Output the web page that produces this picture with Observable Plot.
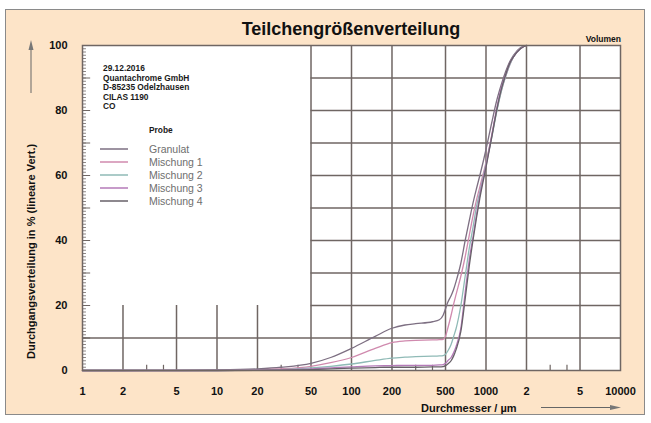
<!DOCTYPE html>
<html><head><meta charset="utf-8">
<script src="https://cdn.jsdelivr.net/npm/d3@7"></script>
<script src="https://cdn.jsdelivr.net/npm/@observablehq/plot@0.6"></script>
<style>
html,body{margin:0;padding:0;background:#fff;}
#wrap{position:relative;width:651px;height:423px;overflow:hidden;font-family:"Liberation Sans",Arial,sans-serif;}
#panel{position:absolute;left:5px;top:9px;width:638px;height:404px;background:#fde4c8;border:1px solid #8a8a8a;}
#chart{position:absolute;left:0;top:0;}
#over{position:absolute;left:0;top:0;}
</style></head><body>
<div id="wrap"><div id="panel"></div><div id="chart"></div><svg id="over" width="651" height="423"></svg></div>
<script>
// ---- data ----
const diameters = [1, 2, 5, 10, 20, 30, 50, 70, 100, 150, 200, 250, 300, 400, 450, 480, 500, 520, 550, 575, 600, 650, 700, 750, 800, 850, 900, 1000, 1100, 1200, 1300, 1400, 1500, 1600, 1800, 2000];
const granulat  = [0, 0, 0.05, 0.15, 0.5, 1, 2.2, 4, 6.8, 10.5, 13, 14, 14.4, 15, 15.6, 17, 19, 21, 23, 25, 27.5, 33, 40, 46, 51.5, 56, 60, 68, 76, 83, 88, 92, 95, 97, 99.3, 100];
const mischung1 = [0, 0, 0, 0.05, 0.2, 0.5, 1.3, 2.4, 4, 6.8, 8.6, 9.1, 9.3, 9.4, 9.5, 9.6, 10.5, 13, 17, 20.5, 23.5, 29, 35, 41.5, 47.5, 52.5, 56.5, 64, 72, 80, 86, 90.5, 94, 96.5, 99, 100];
const mischung2 = [0, 0, 0, 0, 0.1, 0.3, 0.8, 1.3, 2, 3.1, 3.8, 4.1, 4.3, 4.4, 4.5, 4.6, 5, 6, 8, 10.5, 13, 20, 29, 37.5, 44, 50.5, 55, 63.5, 71.5, 79.5, 86, 90.5, 94, 96.5, 99, 100];
const mischung3 = [0, 0, 0, 0, 0.1, 0.2, 0.5, 0.8, 1.1, 1.4, 1.5, 1.6, 1.6, 1.6, 1.7, 1.8, 2.2, 3, 4, 5.5, 7.5, 13, 24, 34, 41, 48, 54, 63, 72, 80.5, 87, 91, 94.5, 96.5, 99, 100];
const mischung4 = [0, 0, 0, 0, 0.05, 0.1, 0.3, 0.5, 0.7, 0.9, 1, 1, 1, 1.1, 1.1, 1.2, 1.5, 2, 3, 4.5, 6.5, 12, 22, 32, 40, 47, 53, 62.5, 71.5, 80, 86.5, 91, 94.5, 96.5, 99, 100];
const seriesNames = ["Granulat", "Mischung 1", "Mischung 2", "Mischung 3", "Mischung 4"];
const seriesValues = [granulat, mischung1, mischung2, mischung3, mischung4];
const seriesColors = ["#7d6f82", "#d08aae", "#8fbab6", "#b47ab8", "#676068"];
const xTickValues = [1, 2, 5, 10, 20, 50, 100, 200, 500, 1000, 2000, 5000, 10000];
const xTickLabels = ["1", "2", "5", "10", "20", "50", "100", "200", "500", "1000", "2", "5", "10000"];
const yTickValues = [0, 20, 40, 60, 80, 100];
const fullGridX = [50, 100, 200, 500, 1000, 2000, 5000];
const lowGridX = [2, 5, 10, 20];
const shortTicksX = [3, 4, 30, 40, 300, 400, 3000, 4000];
const gridY = [20, 30, 40, 50, 60, 70, 80, 90];
const fullGridY = [10];
const infoLines = ["29.12.2016", "Quantachrome GmbH", "D-85235 Odelzhausen", "CILAS 1190", "CO"];

// ---- build ----
const rows = seriesNames.flatMap((name, i) => diameters.map((d, j) => ({name, d, v: seriesValues[i][j]})));
const labelMap = new Map(xTickValues.map((v, i) => [v, xTickLabels[i]]));
const minorY = d3.range(0, 101, 1);
const majorY = d3.range(0, 101, 10);
const gridColor = "#6f6663";

const chart = Plot.plot({
  width: 651, height: 423,
  marginLeft: 82, marginRight: 31, marginTop: 45, marginBottom: 53,
  style: {background: "transparent", fontFamily: "Liberation Sans, Arial, sans-serif", color: "#111"},
  x: {type: "log", domain: [1, 10000], axis: null},
  y: {domain: [0, 100]},
  color: {domain: seriesNames, range: seriesColors},
  marks: [
    Plot.frame({fill: "white", stroke: null}),
    Plot.ruleX(fullGridX, {y1: 0, y2: 100, stroke: gridColor, strokeWidth: 1.5}),
    Plot.ruleX(lowGridX, {y1: 0, y2: 20, stroke: gridColor, strokeWidth: 1.5}),
    Plot.ruleX(shortTicksX, {y1: 0, y2: 1.6, stroke: gridColor, strokeWidth: 1.2}),
    Plot.ruleY(gridY, {x1: 50, x2: 10000, stroke: gridColor, strokeWidth: 1.5}),
    Plot.ruleY(fullGridY, {x1: 1, x2: 10000, stroke: gridColor, strokeWidth: 1.5}),
    Plot.ruleY(minorY, {x1: 1, x2: 1.07, stroke: gridColor, strokeWidth: 0.8}),
    Plot.ruleY(majorY, {x1: 1, x2: 1.15, stroke: gridColor, strokeWidth: 1}),
    Plot.line(rows, {x: "d", y: "v", z: "name", stroke: "name", curve: "monotone-x", strokeWidth: 1.3}),
    Plot.frame({stroke: gridColor, strokeWidth: 1.5}),
    Plot.text(xTickValues, {x: d => d, text: d => labelMap.get(d), frameAnchor: "bottom", dy: 24, fontWeight: "bold", fontSize: 11, fill: "#111"}),
    Plot.axisY(yTickValues, {tickSize: 0, tickPadding: 15, fontWeight: "bold", fontSize: 11, label: null})
  ]
});
document.getElementById("chart").append(chart);

// ---- annotations ----
const svg = d3.select("#over").style("font-family", "Liberation Sans, Arial, sans-serif");
svg.append("text").attr("x", 351).attr("y", 35).attr("text-anchor", "middle")
  .attr("font-size", 18).attr("font-weight", "bold").attr("fill", "#111").text("Teilchengrößenverteilung");
svg.append("text").attr("x", 621).attr("y", 42).attr("text-anchor", "end")
  .attr("font-size", 8.5).attr("font-weight", "bold").attr("fill", "#111").text("Volumen");
// y title
svg.append("text").attr("transform", "translate(35,359) rotate(-90)").attr("text-anchor", "start")
  .attr("font-size", 11).attr("font-weight", "bold").attr("fill", "#111")
  .text("Durchgangsverteilung in % (lineare Vert.)");
svg.append("line").attr("x1", 31).attr("x2", 31).attr("y1", 93).attr("y2", 47).attr("stroke", "#666").attr("stroke-width", 1);
svg.append("path").attr("d", "M28.5,50 L33.5,50 L31,40 Z").attr("fill", "#777");
// x title
svg.append("text").attr("x", 421).attr("y", 412).attr("text-anchor", "start")
  .attr("font-size", 11).attr("font-weight", "bold").attr("fill", "#111").text("Durchmesser / µm");
svg.append("line").attr("x1", 541).attr("x2", 614).attr("y1", 407.5).attr("y2", 407.5).attr("stroke", "#666").attr("stroke-width", 1);
svg.append("path").attr("d", "M610,405 L610,410 L621,407.5 Z").attr("fill", "#777");
// info text (condensed bold)
const info = svg.append("g").attr("transform", "translate(103,0) scale(0.88,1)");
infoLines.forEach((t, i) => {
  info.append("text").attr("x", 0).attr("y", 71 + i * 9.6).attr("font-size", 9.5)
    .attr("font-weight", "bold").attr("fill", "#1a1a1a").text(t);
});
svg.append("g").attr("transform", "translate(149,0) scale(0.88,1)")
  .append("text").attr("x", 0).attr("y", 133).attr("font-size", 9.5).attr("font-weight", "bold")
  .attr("fill", "#1a1a1a").text("Probe");
seriesNames.forEach((n, i) => {
  const y = 149 + i * 13;
  svg.append("line").attr("x1", 100).attr("x2", 128).attr("y1", y).attr("y2", y)
    .attr("stroke", seriesColors[i]).attr("stroke-width", 1.5);
  svg.append("text").attr("x", 149).attr("y", y + 4).attr("font-size", 10.5).attr("fill", "#6e6e6e").text(n);
});
</script>
</body></html>
